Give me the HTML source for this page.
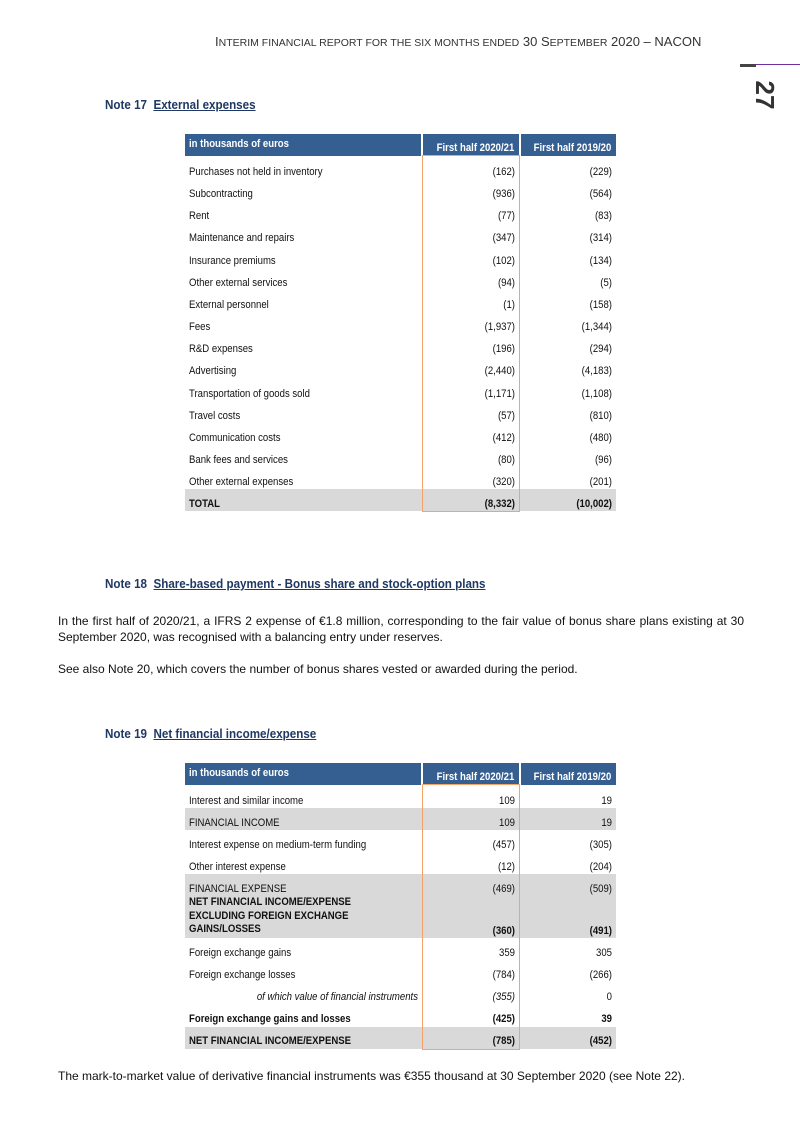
<!DOCTYPE html>
<html><head><meta charset="utf-8"><style>
body{margin:0;background:#fff;}
#p{position:relative;width:800px;height:1131px;overflow:hidden;font-family:"Liberation Sans",sans-serif;color:#111;}
.a{position:absolute;white-space:nowrap;}
.r{position:absolute;font-size:11px;line-height:14px;height:14px;white-space:nowrap;}
.l{left:189px;transform:scaleX(.87);transform-origin:left center;}
.c2{left:423px;width:92px;text-align:right;transform:scaleX(.87);transform-origin:right center;}
.c3{left:521px;width:91px;text-align:right;transform:scaleX(.87);transform-origin:right center;}
.hd{position:absolute;background:#365f91;color:#fff;font-weight:bold;font-size:11px;white-space:nowrap;}
.hl{position:absolute;left:4px;top:4px;transform:scaleX(.87);transform-origin:left center;}
.hr{position:absolute;right:5px;top:8px;transform:scaleX(.87);transform-origin:right center;}
.g{position:absolute;background:#d9d9d9;left:185px;width:431px;}
.ob{position:absolute;border:1px solid #f4a46a;box-sizing:border-box;left:422px;width:98px;}
.note{position:absolute;left:105px;font-weight:bold;color:#1f3864;font-size:12.5px;white-space:nowrap;transform:scaleX(.93);transform-origin:left center;}
.note u{text-decoration:underline;}
.b{font-weight:bold;}
.txt{position:absolute;left:58px;width:686px;font-size:12px;line-height:16px;text-align:justify;}
</style></head><body><div id="p">
<div class="a" style="left:215px;top:34px;font-size:13px;color:#333;">I<span style="font-size:10.5px">NTERIM FINANCIAL REPORT FOR THE SIX MONTHS ENDED</span> 30 S<span style="font-size:10.5px">EPTEMBER</span> 2020 – NACON</div>
<div class="a" style="left:740px;top:64px;width:60px;height:1px;background:#7030a0;"></div>
<div class="a" style="left:740px;top:64px;width:16px;height:3px;background:#444;"></div>
<div class="a" style="left:748px;top:80px;font-weight:bold;font-size:26px;color:#333;transform:rotate(90deg);transform-origin:center;width:34px;text-align:center;line-height:30px;">27</div>

<div class="note" style="top:98px;">Note 17&nbsp; <u>External expenses</u></div>
<div class="hd" style="left:185px;top:134px;width:236px;height:22px;"><span class="hl">in thousands of euros</span></div>
<div class="hd" style="left:423px;top:134px;width:96px;height:22px;"><span class="hr">First half 2020/21</span></div>
<div class="hd" style="left:521px;top:134px;width:95px;height:22px;"><span class="hr">First half 2019/20</span></div>
<div class="g" style="top:489px;height:22px;"></div>
<div class="ob" style="top:155px;height:357px;"></div>
<div class="r l" style="top:165px">Purchases not held in inventory</div><div class="r c2" style="top:165px">(162)</div><div class="r c3" style="top:165px">(229)</div>
<div class="r l" style="top:187px">Subcontracting</div><div class="r c2" style="top:187px">(936)</div><div class="r c3" style="top:187px">(564)</div>
<div class="r l" style="top:209px">Rent</div><div class="r c2" style="top:209px">(77)</div><div class="r c3" style="top:209px">(83)</div>
<div class="r l" style="top:231px">Maintenance and repairs</div><div class="r c2" style="top:231px">(347)</div><div class="r c3" style="top:231px">(314)</div>
<div class="r l" style="top:254px">Insurance premiums</div><div class="r c2" style="top:254px">(102)</div><div class="r c3" style="top:254px">(134)</div>
<div class="r l" style="top:276px">Other external services</div><div class="r c2" style="top:276px">(94)</div><div class="r c3" style="top:276px">(5)</div>
<div class="r l" style="top:298px">External personnel</div><div class="r c2" style="top:298px">(1)</div><div class="r c3" style="top:298px">(158)</div>
<div class="r l" style="top:320px">Fees</div><div class="r c2" style="top:320px">(1,937)</div><div class="r c3" style="top:320px">(1,344)</div>
<div class="r l" style="top:342px">R&amp;D expenses</div><div class="r c2" style="top:342px">(196)</div><div class="r c3" style="top:342px">(294)</div>
<div class="r l" style="top:364px">Advertising</div><div class="r c2" style="top:364px">(2,440)</div><div class="r c3" style="top:364px">(4,183)</div>
<div class="r l" style="top:387px">Transportation of goods sold</div><div class="r c2" style="top:387px">(1,171)</div><div class="r c3" style="top:387px">(1,108)</div>
<div class="r l" style="top:409px">Travel costs</div><div class="r c2" style="top:409px">(57)</div><div class="r c3" style="top:409px">(810)</div>
<div class="r l" style="top:431px">Communication costs</div><div class="r c2" style="top:431px">(412)</div><div class="r c3" style="top:431px">(480)</div>
<div class="r l" style="top:453px">Bank fees and services</div><div class="r c2" style="top:453px">(80)</div><div class="r c3" style="top:453px">(96)</div>
<div class="r l" style="top:475px">Other external expenses</div><div class="r c2" style="top:475px">(320)</div><div class="r c3" style="top:475px">(201)</div>
<div class="r l b" style="top:497px">TOTAL</div><div class="r c2 b" style="top:497px">(8,332)</div><div class="r c3 b" style="top:497px">(10,002)</div>

<div class="note" style="top:577px;">Note 18&nbsp; <u>Share-based payment - Bonus share and stock-option plans</u></div>
<div class="txt" style="top:613px;">In the first half of 2020/21, a IFRS 2 expense of €1.8 million, corresponding to the fair value of bonus share plans existing at 30 September 2020, was recognised with a balancing entry under reserves.</div>
<div class="txt" style="top:661px;">See also Note 20, which covers the number of bonus shares vested or awarded during the period.</div>

<div class="note" style="top:727px;">Note 19&nbsp; <u>Net financial income/expense</u></div>
<div class="hd" style="left:185px;top:763px;width:236px;height:22px;"><span class="hl">in thousands of euros</span></div>
<div class="hd" style="left:423px;top:763px;width:96px;height:22px;"><span class="hr">First half 2020/21</span></div>
<div class="hd" style="left:521px;top:763px;width:95px;height:22px;"><span class="hr">First half 2019/20</span></div>
<div class="g" style="top:808px;height:22px;"></div>
<div class="g" style="top:874px;height:64px;"></div>
<div class="g" style="top:1027px;height:22px;"></div>
<div class="ob" style="top:784px;height:266px;"></div>
<div class="r l" style="top:794px">Interest and similar income</div><div class="r c2" style="top:794px">109</div><div class="r c3" style="top:794px">19</div>
<div class="r l" style="top:816px">FINANCIAL INCOME</div><div class="r c2" style="top:816px">109</div><div class="r c3" style="top:816px">19</div>
<div class="r l" style="top:838px">Interest expense on medium-term funding</div><div class="r c2" style="top:838px">(457)</div><div class="r c3" style="top:838px">(305)</div>
<div class="r l" style="top:860px">Other interest expense</div><div class="r c2" style="top:860px">(12)</div><div class="r c3" style="top:860px">(204)</div>
<div class="r l" style="top:882px">FINANCIAL EXPENSE</div><div class="r c2" style="top:882px">(469)</div><div class="r c3" style="top:882px">(509)</div>
<div class="r l b" style="top:896px;height:42px;line-height:13.5px">NET FINANCIAL INCOME/EXPENSE<br>EXCLUDING FOREIGN EXCHANGE<br>GAINS/LOSSES</div><div class="r c2 b" style="top:924px">(360)</div><div class="r c3 b" style="top:924px">(491)</div>
<div class="r l" style="top:946px">Foreign exchange gains</div><div class="r c2" style="top:946px">359</div><div class="r c3" style="top:946px">305</div>
<div class="r l" style="top:968px">Foreign exchange losses</div><div class="r c2" style="top:968px">(784)</div><div class="r c3" style="top:968px">(266)</div>
<div class="r" style="top:990px;left:189px;width:229px;text-align:right;font-style:italic;transform:scaleX(.87);transform-origin:right center">of which value of financial instruments</div><div class="r c2" style="top:990px;font-style:italic">(355)</div><div class="r c3" style="top:990px">0</div>
<div class="r l b" style="top:1012px">Foreign exchange gains and losses</div><div class="r c2 b" style="top:1012px">(425)</div><div class="r c3 b" style="top:1012px">39</div>
<div class="r l b" style="top:1034px">NET FINANCIAL INCOME/EXPENSE</div><div class="r c2 b" style="top:1034px">(785)</div><div class="r c3 b" style="top:1034px">(452)</div>
<div class="txt" style="top:1068px;">The mark-to-market value of derivative financial instruments was €355 thousand at 30 September 2020 (see Note 22).</div>
</div></body></html>
